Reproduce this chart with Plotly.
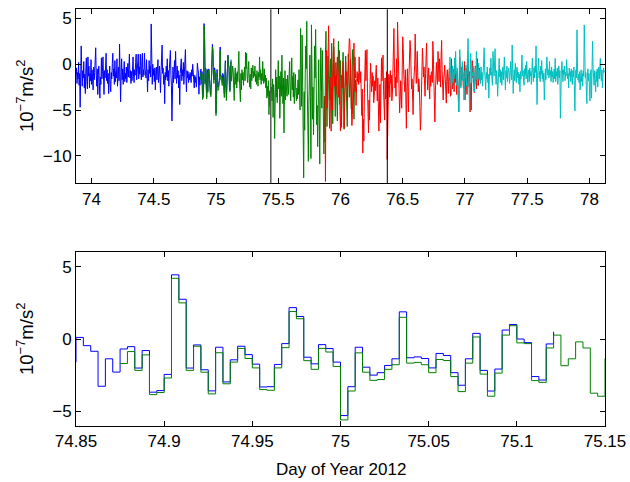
import numpy as np
import plotly.graph_objects as go

# Sample interval: 6 minutes, expressed in days
DT = 1.0 / 240.0

# Segment start times (day of year 2012)
blue_start = 73.875
green_start = 74.875
red_start = 75.875
cyan_start = 76.875

# Acceleration residuals, 1e-7 m/s^2
blue_vals = [
    -1.2, -0.4, -2.1, -0.9, -1.6, 0.2, -2.3, -1.0, -4.7, -1.8, 2.0, -0.6,
    -2.4, -0.7, -1.5, 0.3, -2.6, -1.1, -3.2, -0.4, 0.7, -1.9, -2.7, 0.8,
    -1.3, -0.2, -2.6, -1.0, -1.8, 0.5, -2.2, -0.6, -1.4, -2.8, -0.3, -1.7,
    -0.9, 0.2, 1.8, -1.2, -2.4, -0.5, -3.3, -1.1, -0.2, -2.0, -3.7, -1.4,
    -2.2, 0.7, -1.6, -0.8, 0.8, -1.9, -3.3, -0.7, -1.5, -0.3, 1.2, -1.8,
    -0.6, -2.1, -1.0, -3.2, -1.4, -0.2, -2.5, -3.0, -0.9, -1.6, 0.1, 1.2,
    -1.3, -0.5, -2.2, 0.4, -1.9, -0.8, -1.5, 0.6, -2.4, -1.1, -0.3, -1.8,
    2.2, -0.9, -4.1, -1.2, 0.6, -1.7, -0.5, -2.2, -0.8, 0.3, -1.9, -1.0,
    -1.6, -0.3, -2.0, -0.9, 0.1, -1.4, -0.6, 1.1, -1.5, -0.7, -2.1, -0.8,
    -1.8, -0.4, 0.8, -1.3, -2.0, -0.6, -1.2, 0.2, 1.1, -1.7, -0.5, -1.0,
    1.1, -1.6, -0.3, -1.1, 1.1, -0.7, -1.7, 0.3, 1.2, -1.4, -0.6, -1.2,
    1.2, -0.4, -0.9, -1.5, 0.5, -1.1, -3.0, -0.6, -1.8, 0.4, -1.0, -0.2,
    -1.4, 4.4, 1.0, -2.2, 0.0, -1.2, -0.5, -1.9, -0.4, -2.8, -1.0, -0.3,
    -1.7, -0.6, 0.5, -2.0, -1.1, -0.2, -1.6, -3.1, -0.8, 0.3, 2.1, -1.0,
    -0.4, -2.2, -1.2, -4.3, -0.9, -1.7, -0.2, -1.4, 0.6, -1.8, -0.7, -2.4,
    -0.5, 0.2, 1.5, -1.1, -2.3, -6.2, -1.5, -0.3, -2.0, -0.8, 0.4, -1.6,
    1.4, -0.9, -2.1, -0.2, -1.5, -0.7, -2.6, -1.2, -4.4, -1.0, -0.3, 0.6,
    -1.8, -0.6, -1.3, 0.2, -2.2, -0.9, -0.1, 1.6, -1.4, -3.0, -0.7, -1.5,
    -0.8, -2.0, -1.1, -1.7, -0.9, -1.5, -2.0, -0.6, -1.3, 0.0, -1.0, -1.8,
    -2.6, -1.2, -2.0, -1.4, -2.5, -1.6,
    0.11, -0.46, -0.85, -3.27, -1.37, -2.29, -0.69, -0.53, -2.01, -0.80, -3.68, -3.57,
    -2.45, 4.44, 2.75, -2.01, -0.41, -2.13, -3.59, -0.57, -2.97, -1.44, -0.50, -1.08,
    -1.74, -3.32, -3.30, -1.76, -0.32, 2.17, 1.56, -1.26, -1.72, -0.39, -0.66, -1.60,
    -5.30, -3.30, -0.57, -1.95, -2.50, -2.33, -1.83, -1.37, 1.88, -1.30, -1.24, -1.35,
    -2.00, -1.00, -1.14, -2.33, -3.20, -1.37, 0.39, -2.17, -3.60, -2.08, 0.62, 1.00,
    0.00, -0.25, -2.60, -2.84, -0.34, 0.50,
]

green_vals = [
    -1.70, -0.87, -2.17, -1.10, -3.85, -3.70, -2.70, 4.20, 2.50, -2.17, -0.50, -2.30,
    -3.80, -0.95, -3.10, -1.60, -0.65, -1.35, -2.00, -3.50, -3.55, -2.00, -0.60, 1.90,
    1.40, -1.50, -2.10, -0.65, -0.90, -1.90,
    -5.60, -3.60, -0.96, -2.30, -2.86, -2.80, -2.10, -1.78, 1.50, -1.67, -1.62, -1.78,
    -2.33, -1.42, -1.49, -2.60, -3.64, -1.67, 0.14, -2.43, -3.96, -2.36, 0.27, 0.92,
    -0.27, -0.32, -2.88, -3.00, -0.62, 0.27, -1.85, -1.37, -0.20, -0.62, -3.75, -3.96,
    -1.35,
    -0.4, -2.2, -1.0, -2.6, -0.8, -1.9, -0.2, 1.4, -1.5, -2.4, -4.1, -1.0,
    -2.8, -0.6, -1.7, -0.9, -2.3, -1.2, -0.3, -1.8, 1.3, -0.5, 1.2, -1.4,
    -2.0, -0.7, 0.3, -1.6, -2.5, -1.1, -2.7, -0.4, -1.8, -1.0, -0.1, -1.5,
    -0.8, -1.3, -0.2, -1.9, -1.1, -2.2, -0.7, -1.6, -2.4, -0.9, -1.4, 0.8,
    -1.7, -0.6, -2.2, -1.0, -1.8, 0.3, -1.3, -2.1, -0.5, -1.9, -1.2, -2.6,
    -1.5, -3.7, -2.4, -3.5, -1.8, -5.5, -2.9, -4.6, -1.9, -3.2, -2.5, -4.0,
    -1.6, -5.8, -2.2, -3.3, -8.1, -2.0, -0.6, -3.6, -1.4, -4.2, -2.3, 0.4,
    -2.7, -1.3, -5.9, -2.4, -0.8, -3.5, 1.0, -2.1, -4.3, -1.5, -7.5, -2.8,
    -0.7, -3.9, -1.6, -2.9, -3.5, -1.2, -2.4, -3.3, -1.0, 0.3, -2.6, -4.0,
    -1.9, 0.7, -2.8, -1.3, -3.6, -0.9, -4.3, -2.0, -1.1, -3.1, -4.0, -2.6,
    -3.8, -1.7, -3.3, -0.6, -2.9, -5.0, 3.9, 0.4, -4.6, 3.2, -1.8, -6.5,
    -12.4, -3.0, -7.2, -1.0, 2.0, -0.5, 4.7, -2.8, -6.0, -10.6, -4.4, -0.8,
    1.0, -3.5, -10.3, 4.3, -1.2, -6.0, -2.5, -7.7, -3.0, 2.0, -1.5, 3.8,
    -0.8, -6.6, -4.5, -9.0, -2.2, 0.5, -5.4, -10.9, -3.1, 1.8, -1.0, -4.8,
    1.5, -2.2, -6.3, -9.8, -3.5, -8.5, 1.2, 3.6, -3.0, -6.8, -2.4, 0.9,
    -1.7, -5.9, -7.0, -2.1, 0.6, -3.8, 2.3, -1.4, -6.5, -3.1, 1.9, -0.5,
    -2.9, -5.7, 0.2, -1.6, -3.4, -6.2, -2.0, 2.5, -1.0, -4.4, -2.6, 0.4,
    -1.9, -6.9, -3.8, -0.9, 1.3, -2.7, -7.1, -4.0, -1.2, 0.9, -2.3, -5.2,
    -6.8, -2.5, 1.1, -0.7, -3.6, -1.9, 0.5, -2.8, -4.9, -1.4, 1.6, -0.3,
    -3.2, -6.0, -2.1, 0.8, -1.5,
]

red_vals = [
    -3.5, -12.8, -2.0, 1.5, -4.8, -1.0, 3.0, 4.2, 0.5, -3.9, -1.4, -4.6,
    -7.3, -2.5, -5.0, -0.6, 1.2, 2.8, -0.9, -2.4, -1.3, -3.3, -1.9, -0.2,
    0.8, -2.1, -3.6, -1.0, 1.5, -5.2, -7.3, -3.1, -1.2, -2.6, -0.5, 0.3,
    -2.8, -7.0, -4.4, -1.6, 0.3, -2.3, -0.8, -4.0, -2.0, -0.4, 1.4, 2.8,
    2.6, -1.2, -2.9, -4.8, -6.7, -5.5, -1.3, 0.4, 2.3, -0.9, -3.0, -1.7,
    -4.5, -2.4, -0.8, -1.9, -1.0, -2.2, 0.8, -1.5, -2.0, -0.8, -3.4, -5.6,
    -2.7, -9.7, -6.0, -8.4, -3.2, -0.6, 1.5, -1.8, 0.9, 1.6, -2.7, -5.3,
    -7.5, -3.9, -6.1, -2.2, 0.1, -1.6, -3.0, -0.9, -2.4, -1.3, -4.2, -3.5,
    -1.8, -2.9, -1.1, -0.1, -2.6, -4.0, -1.5, -3.3, -7.3, -5.1, -2.2, -6.4,
    -3.0, 0.7, -1.8, -0.4, 1.0, -2.9, -4.2, -6.1, -1.5, -3.8, -2.2, -0.8,
    -10.4, -6.7, -2.9, -1.1, -1.5, -3.6, -0.7, -2.1, -1.2, -4.0, -3.3, -1.0,
    0.9, 3.9, -0.3, -2.6, -1.4, -3.5, 0.6, -2.0, 4.6, 2.2, -1.6, -3.0,
    -5.3, -4.0, -1.8, -2.8, -4.8, -0.5, 3.0, 1.7, -1.1, -2.4, -3.0, -0.6,
    -4.1, -7.0, -2.5, -0.5, -3.1, -5.2, -1.4, 0.9, 2.6, 1.8, -0.8, -2.7,
    -1.6, -3.4, -5.5, -2.2, -1.0, -0.1, 3.3, 0.5, -2.1, -0.9, 1.4, -1.2,
    -3.0, -1.6, -2.3, -4.6, -7.2, -6.0, -2.5, -0.8, 1.75, 0.4, -1.4, -0.3,
    -2.1, -3.5, -1.0, 0.5, 2.3, -0.6, -2.8, -1.5, -0.4, -2.6, -3.8, -1.2,
    -2.4, -0.9, -0.8, -2.0, 2.5, 1.1, -1.7, -3.6, -6.3, -2.9, -0.5, 0.2,
    -1.5, -2.2, 1.4, -0.7, -1.9, 0.6, -1.2, -2.5, 0.9, 2.6, -0.8, -2.0,
    -3.9, -1.7, -0.5, -0.1, -1.6, -2.4, -4.25, -1.3, -0.6, -2.2, -3.2, -1.0,
    -0.4, -2.3, -3.5, -1.1, 0.6, -1.8, -2.7, -0.5, -1.5, -3.0, -1.2, 0.2,
    -2.0, -1.0, -3.3, -0.7, -1.9, -2.8, -5.2, -1.5, 0.8, -1.1, -2.4, -0.3,
    -1.7, -0.6, -2.0, -2.6, -1.1, 0.3, -3.9, -1.8, -0.4, -2.2, -3.3, -1.0,
    0.5, -1.4, -2.5, -0.8, -5.2, -2.1, -5.0, -1.3, 0.4, -1.5, -0.6, -2.4,
    -3.1, -1.2, -0.2, -1.9, -2.7, -0.8, 0.6, -1.6, -2.3, -1.0, -0.4, -1.8,
]

cyan_vals = [
    -1.5, 0.8, -0.6, -1.9, -3.3, -1.2, -0.2, -2.0, -0.9, -1.6, 0.7, -1.1,
    1.4, -0.8, -2.3, -0.4, -1.7, -2.9, -5.2, -0.9, 1.6, -0.6, -2.6, -1.3,
    -0.5, 0.3, -1.8, -1.0, -3.9, -2.1, -0.7, -1.5, -0.1, -2.4, -1.1, 0.4,
    2.8, -0.3, -1.9, -5.2, -1.4, 1.2, -0.6, -2.0, -0.9, -1.3, -0.2, -1.8,
    -3.0, -1.0, -0.4, -1.7, 1.4, -0.5, -2.3, -1.2, 0.1, -1.6, -0.6, -0.8,
    -2.1, -0.3, -1.7, -0.9, -2.4, -0.5, 0.6, 1.8, -0.7, -1.4, -2.8, -0.9,
    -1.6, -0.3, -2.0, -1.1, -3.7, -1.5, -0.4, -1.2, 0.65, -0.8, -1.9, -2.3,
    1.4, -0.6, -1.3, -0.2, 1.7, -1.0, -2.2, -0.7, -1.5, -3.5, -1.1, -0.4,
    0.65, -1.4, -0.6, -2.0, -0.8, -2.3, -1.2, -0.3, -1.7, -0.9, 0.8, -1.3,
    -2.8, -0.7, -1.5, -0.2, -1.9, -1.0, -0.4, -0.8, -2.1, -1.2, 0.3, -0.9,
    -1.7, 2.1, -0.5, -3.2, -1.4, -0.6, -1.8, 0.1, -1.1, -2.0, -0.3, -0.6,
    -1.5, -0.9, -2.2, -1.1, -3.0, -0.8, -1.6, -0.2, 1.0, -1.3, -0.7, -1.9,
    -2.3, -0.5, -1.2, -0.1, -1.6, 0.3, -0.9, -2.0, -1.1, -0.6, -1.9, -0.4,
    -1.3, -0.8, -2.2, 0.3, 0.65, -1.0, -1.9, -0.4, -1.5, -0.2, -0.9, 2.0,
    -0.6, -4.4, -1.2, -0.3, 0.65, -1.5, -0.8, -1.9, -0.2, -1.1, 0.4, -1.6,
    -0.7, -1.9, -1.0, -3.9, -1.3, -0.5, -1.7, -0.9, 0.8, -0.4, -1.2, -0.6,
    -1.5, 0.3, -1.2, -0.7, -1.9, -0.3, -1.4, -0.8, -2.0, -1.1, -0.5, -1.6,
    0.65, -1.9, -0.8, -1.3, -0.4, -2.2, -1.0, -0.2, -1.5, -0.7, -5.9, -1.2,
    -0.5, 0.3, -1.4, -1.9, -0.6, -1.1, -0.2, -1.8, -0.9, -1.3, 0.5, -0.7,
    -1.6, -1.0, -2.6, -0.4, -1.3, -0.8, -1.9, -0.5, -1.2, -2.2, -0.7, -1.4,
    -0.3, -1.8, -5.1, -1.0, -0.6, -1.5, 3.75, -0.4, -1.7, -1.1, -2.0, -0.8,
    -2.8, -1.5, -0.6, -1.9, -1.0, -2.4, -0.7, -1.3, 4.3, 0.2, -1.5, -0.9,
    -2.1, -4.3, -1.4, -0.5, -1.8, -1.0, -2.6, -4.0, -1.2, -0.6, -3.7, -1.8,
    2.5, -0.4, -1.1, -2.3, -0.7, -1.4, -3.0, -0.8, -1.9, -0.5, -2.5, -1.2,
    -0.3, -1.6, -0.9, 0.65, -1.2, -1.8, -0.6, -2.6, -1.3, -0.4, -0.9, -0.7,
]

# Segment boundaries marked in the overview panel
event_days = [75.44, 76.376]
event_colors = ["rgb(90,90,90)", "black"]
event_widths = [1.5, 1]

top_xticks = [74, 74.5, 75, 75.5, 76, 76.5, 77, 77.5, 78]
top_yticks = [-10, -5, 0, 5]
bot_xticks = [74.85, 74.9, 74.95, 75, 75.05, 75.1, 75.15]
bot_xlabels = ["74.85", "74.9", "74.95", "75", "75.05", "75.1", "75.15"]
bot_yticks = [-5, 0, 5]

BLUE = "rgb(0,0,255)"
GREEN = "rgb(0,128,0)"
RED = "rgb(255,0,0)"
CYAN = "rgb(0,191,191)"


def times(start, vals):
    return start + np.arange(len(vals)) * DT


segments = [
    (blue_start, blue_vals, BLUE),
    (green_start, green_vals, GREEN),
    (red_start, red_vals, RED),
    (cyan_start, cyan_vals, CYAN),
]

fig = go.Figure()

# Overview panel: all four processing segments
for start, vals, color in segments:
    fig.add_trace(go.Scatter(
        x=times(start, vals), y=vals, mode="lines",
        line=dict(color=color, width=1), xaxis="x", yaxis="y",
        showlegend=False, hoverinfo="skip"))

# Detail panel: overlap of the first two segments as stairs
for start, vals, color in segments[:2]:
    fig.add_trace(go.Scatter(
        x=times(start, vals), y=vals, mode="lines",
        line=dict(color=color, width=1, shape="hv"), xaxis="x2", yaxis="y2",
        showlegend=False, hoverinfo="skip"))

for d, c, w in zip(event_days, event_colors, event_widths):
    fig.add_shape(type="line", xref="x", yref="y domain", x0=d, x1=d, y0=0, y1=1,
                  line=dict(color=c, width=w), layer="above")

FONT = dict(family="Liberation Sans, Arial, Helvetica, sans-serif", size=17, color="black")
LABEL_FONT = dict(family="Liberation Sans, Arial, Helvetica, sans-serif", size=18.5, color="black")

axis_common = dict(
    showline=True, linecolor="black", linewidth=1, mirror="ticks",
    ticks="inside", ticklen=5, tickwidth=1, tickcolor="black",
    showgrid=False, zeroline=False, tickfont=FONT, automargin=False,
)

W, H = 630, 482
xdom = [76 / W, 605 / W]

fig.update_layout(
    width=W, height=H, autosize=False,
    margin=dict(l=0, r=0, t=0, b=0, pad=0),
    paper_bgcolor="white", plot_bgcolor="white",
    font=FONT,
    xaxis=dict(domain=xdom, range=[73.875, 78.125], tickvals=top_xticks,
               anchor="y", **axis_common),
    yaxis=dict(domain=[1 - 183.3 / H, 1 - 9.3 / H], range=[-13, 6],
               tickvals=top_yticks, anchor="x", **axis_common),
    xaxis2=dict(domain=xdom, range=[74.85, 75.15], tickvals=bot_xticks,
                ticktext=bot_xlabels, anchor="y2", **axis_common),
    yaxis2=dict(domain=[1 - 425.7 / H, 1 - 252.3 / H], range=[-6, 6],
                tickvals=bot_yticks, anchor="x2", **axis_common),
    annotations=[
        dict(text="10<sup>−7</sup>m/s<sup>2</sup>", xref="paper", yref="paper",
             x=25 / W, y=1 - 96 / H, textangle=-90, showarrow=False,
             xanchor="center", yanchor="middle", font=LABEL_FONT),
        dict(text="10<sup>−7</sup>m/s<sup>2</sup>", xref="paper", yref="paper",
             x=25 / W, y=1 - 339 / H, textangle=-90, showarrow=False,
             xanchor="center", yanchor="middle", font=LABEL_FONT),
        dict(text="Day of Year 2012", xref="paper", yref="paper",
             x=(76 + 605) / 2 / W, y=1 - 469 / H, showarrow=False,
             xanchor="center", yanchor="middle", font=FONT),
    ],
)

fig.write_html("out.html", config={"responsive": False})
